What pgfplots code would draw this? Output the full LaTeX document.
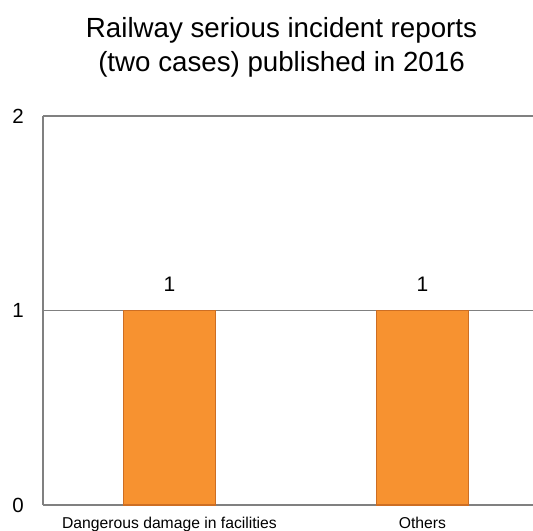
\documentclass[border=0pt]{standalone}
\usepackage{pgfplots}
\pgfplotsset{compat=1.18}
\usepackage{fontspec}
\setmainfont{Liberation Sans}
\definecolor{barfill}{RGB}{247,146,48}
\definecolor{baredge}{RGB}{205,110,35}
\definecolor{axgray}{RGB}{128,128,128}
\begin{document}
\begin{tikzpicture}
\path[use as bounding box] (-43bp,-26bp) rectangle (490bp,505bp);
\begin{axis}[
 at={(0,0)}, anchor=south west,
 scale only axis, width=490bp, height=389bp,
 xmin=-0.5, xmax=1.437, ymin=0, ymax=2,
 axis y line*=left, axis x line*=bottom,
 axis line style={axgray, line width=2bp, -},
 ymajorgrids, grid style={axgray, line width=1.8bp},
 ytick={0,1,2}, xtick={0,1},
 xticklabels={Dangerous damage in facilities, Others},
 major tick length=0pt,
 /pgf/number format/assume math mode=true,
 yticklabel style={font=\fontsize{20.5bp}{24bp}\selectfont, anchor=east, inner sep=0pt, xshift=-19bp},
 xticklabel style={font=\fontsize{15.7bp}{18bp}\selectfont, anchor=base, inner sep=0pt, yshift=-23bp},
 ybar, bar width=92bp,
 nodes near coords,
 every node near coord/.append style={font=\fontsize{21bp}{24bp}\selectfont, anchor=base, inner sep=0pt, yshift=19bp, black},
 clip=false,
]
\addplot[fill=barfill, draw=baredge, line width=1.5bp] coordinates {(0,1) (1,1)};
\end{axis}
\node[anchor=base, font=\fontsize{27.7bp}{33bp}\selectfont] at (238.5bp,467bp) {Railway serious incident reports};
\node[anchor=base, font=\fontsize{27.7bp}{33bp}\selectfont] at (238.5bp,433bp) {(two cases) published in 2016};
\end{tikzpicture}
\end{document}
